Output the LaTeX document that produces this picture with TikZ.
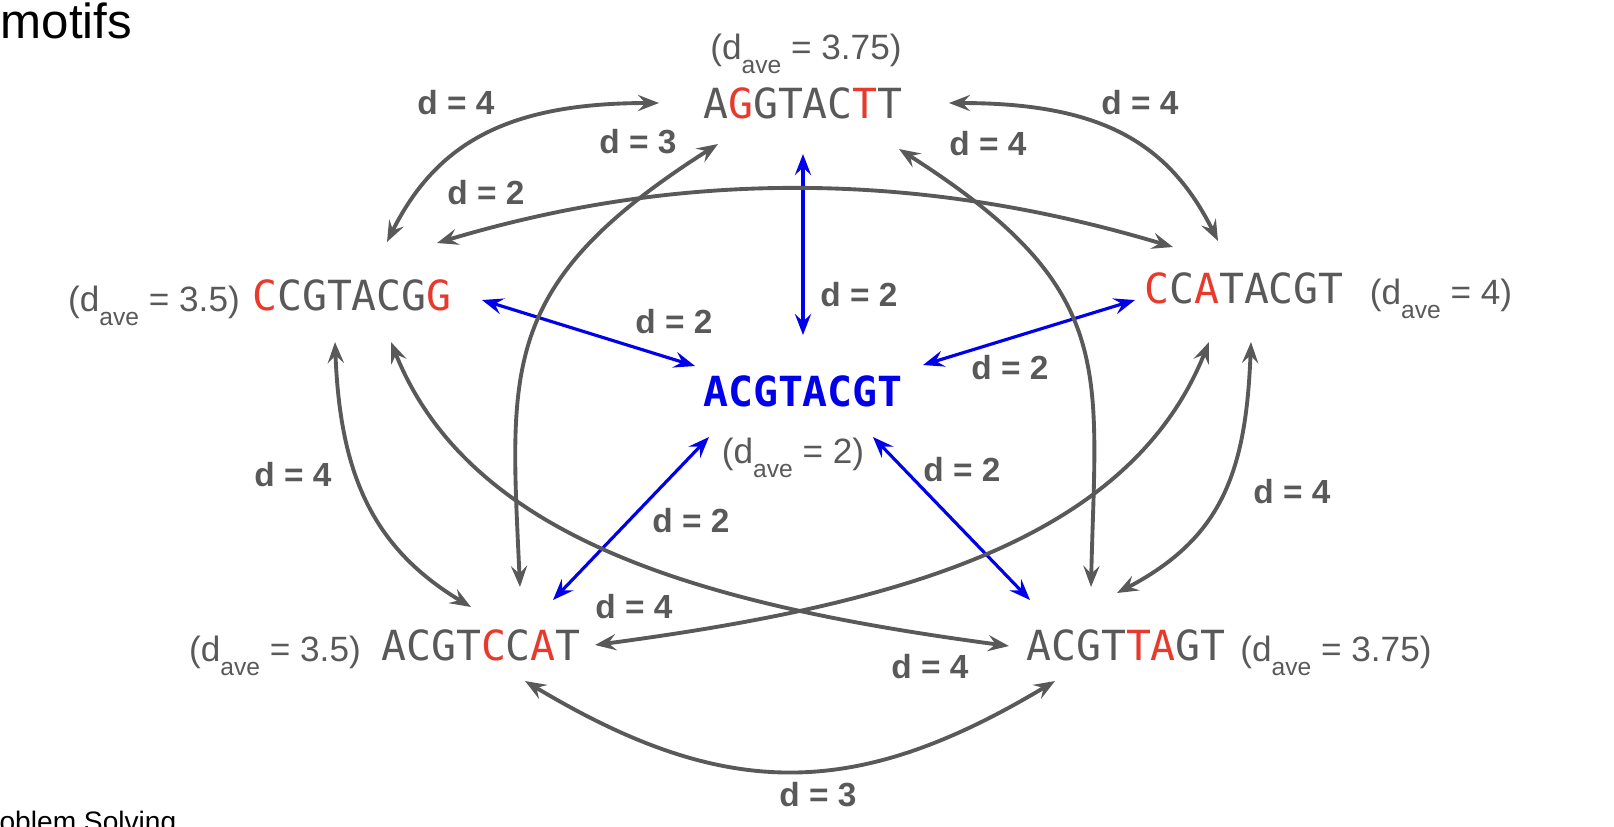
\documentclass[tikz,border=0pt]{standalone}
\usepackage{fontspec}
\setmainfont{Liberation Sans}
\newfontfamily\seqfont{DejaVu Sans Mono}
\usetikzlibrary{arrows.meta}

\definecolor{linkgray}{RGB}{89,89,89}
\definecolor{mutred}{RGB}{232,58,44}
\definecolor{consblue}{RGB}{0,0,235}

\newcommand{\mut}[1]{\textcolor{mutred}{#1}}
\newcommand{\dave}[1]{(d\raisebox{-4pt}{\fontsize{7}{7}\selectfont ave} = #1)}

\begin{document}
\begin{tikzpicture}[x=0.01cm, y=-0.01cm,
	>={Stealth[length=6pt,width=4.6pt,inset=2.2pt]},
	seq/.style={font=\seqfont\fontsize{11.8}{12}\selectfont, text=linkgray, inner sep=0pt},
	avg/.style={font=\fontsize{10}{12}\selectfont, text=linkgray, anchor=base, inner sep=0pt},
	dist/.style={font=\bfseries\fontsize{9.5}{11}\selectfont, text=linkgray, inner sep=0pt},
	glink/.style={<->, linkgray, line width=1.1pt},
	blink/.style={<->, consblue, line width=0.9pt}]
	\useasboundingbox (0,0) rectangle (1614,826);
	\clip (0,0) rectangle (1614,826);
	\node[anchor=base west, font=\fontsize{14}{16}\selectfont, inner sep=0pt] (title) at (0,38) {motifs};
	\node[anchor=base east, font=\fontsize{8}{10}\selectfont, inner sep=0pt] (foot) at (177,831) {oblem Solving};
	% sequences
	\node[seq] (seqT) at (803,103) {A\mut{G}GTAC\mut{T}T};
	\node[seq] (seqL) at (352,295) {\mut{C}CGTACG\mut{G}};
	\node[seq] (seqR) at (1244,288) {\mut{C}C\mut{A}TACGT};
	\node[seq, font=\seqfont\bfseries\fontsize{11.8}{12}\selectfont, text=consblue] (seqC) at (803,391) {ACGTACGT};
	\node[seq] (seqBL) at (481,645) {ACGT\mut{C}C\mut{A}T};
	\node[seq] (seqBR) at (1126,645) {ACGT\mut{TA}GT};
	% average distances
	\node[avg] (avgT) at (806,59) {\dave{3.75}};
	\node[avg] (avgL) at (154,311) {\dave{3.5}};
	\node[avg] (avgR) at (1441,304) {\dave{4}};
	\node[avg] (avgC) at (793,463) {\dave{2}};
	\node[avg] (avgBL) at (275,661) {\dave{3.5}};
	\node[avg] (avgBR) at (1336,661) {\dave{3.75}};
	% links to the consensus
	\draw[blink] ([shift={(0,51)}]seqT.center) -- ([shift={(0,-56)}]seqC.center);
	\draw[blink] ([shift={(130,5)}]seqL.center) -- ([shift={(-108,-25)}]seqC.center);
	\draw[blink] ([shift={(120,-26)}]seqC.center) -- ([shift={(-109,12)}]seqR.center);
	\draw[blink] ([shift={(-94,46)}]seqC.center) -- ([shift={(72,-45)}]seqBL.center);
	\draw[blink] ([shift={(70,46)}]seqC.center) -- ([shift={(-96,-45)}]seqBR.center);
	% links between the motifs
	\draw[glink] ([shift={(-144,0)}]seqT.center) .. controls +(-150,0) and +(50,-100) .. ([shift={(35,-53)}]seqL.center);
	\draw[glink] ([shift={(146,0)}]seqT.center) .. controls +(150,0) and +(-50,-100) .. ([shift={(-26,-47)}]seqR.center);
	\draw[glink] ([shift={(85,-52)}]seqL.center) .. controls +(250,-75) and +(-250,-75) .. ([shift={(-71,-41)}]seqR.center);
	\draw[glink] ([shift={(-85,41)}]seqT.center) .. controls +(-220,140) and +(-10,-220) .. ([shift={(39,-58)}]seqBL.center);
	\draw[glink] ([shift={(96,46)}]seqT.center) .. controls +(220,140) and +(5,-220) .. ([shift={(-35,-58)}]seqBR.center);
	\draw[glink] ([shift={(-17,47)}]seqL.center) .. controls +(5,130) and +(-100,-60) .. ([shift={(-10,-38)}]seqBL.center);
	\draw[glink] ([shift={(7,54)}]seqR.center) .. controls +(-5,130) and +(105,-55) .. ([shift={(-9,-52)}]seqBR.center);
	\draw[glink] ([shift={(39,47)}]seqL.center) .. controls +(80,200) and +(-300,-40) .. ([shift={(-117,1)}]seqBR.center);
	\draw[glink] ([shift={(-35,54)}]seqR.center) .. controls +(-80,200) and +(300,-40) .. ([shift={(114,0)}]seqBL.center);
	\draw[glink] ([shift={(44,36)}]seqBL.center) .. controls +(200,120) and +(-200,120) .. ([shift={(-71,36)}]seqBR.center);
	% distance labels
	\foreach \nm/\x/\y/\v in {lTL/456/103/4, lTBL/638/142/3, lTR/1140/103/4, lTBR/988/144/4, lLR/486/193/2, lCT/859/295/2, lCL/674/322/2, lCR/1010/368/2, lLBL/293/475/4, lCBR/962/470/2, lCBL/691/521/2, lRBR/1292/492/4, lRBL/634/607/4, lLBR/930/667/4, lB/818/795/3} {
		\node[dist] (\nm) at (\x,\y) {d = \v};
	}
\end{tikzpicture}
\end{document}
